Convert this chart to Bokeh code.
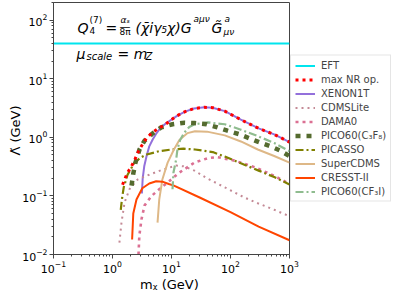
from bokeh.plotting import figure
from bokeh.models import Label, Legend, LegendItem
from bokeh.embed import file_html
from bokeh.resources import INLINE

# ---- data ----
x_range_vals = [0.1, 1000]
y_range_vals = [0.01, 200]

eft_x = [0.1, 1000]
eft_y = [40, 40]

maxnr_x = [1.48, 1.6, 1.8, 2.1, 2.4, 2.76, 3.2, 3.8, 4.8, 6.0, 7.6, 10, 12.6, 17, 24, 36, 50, 80, 150, 300, 550, 1000]
maxnr_y = [0.155, 0.19, 0.25, 0.32, 0.42, 0.58, 0.75, 0.98, 1.22, 1.42, 1.62, 2.0, 2.35, 2.75, 3.1, 3.26, 3.2, 2.8, 2.0, 1.42, 1.12, 0.83]

xenon_x = [3.15, 3.25, 3.45, 3.8, 4.2, 4.8, 5.5, 6.5, 8, 10, 12.6, 17, 24, 36, 50, 80, 150, 300, 550, 1000]
xenon_y = [0.11, 0.2, 0.32, 0.49, 0.7, 0.92, 1.15, 1.45, 1.72, 2.0, 2.35, 2.75, 3.1, 3.26, 3.2, 2.8, 2.0, 1.42, 1.12, 0.83]

cdmslite_x = [1.31, 1.42, 1.6, 1.94, 2.65, 4.2, 7, 12, 16, 24.5, 40, 80, 172, 290, 550, 1000]
cdmslite_y = [0.016, 0.035, 0.077, 0.13, 0.19, 0.23, 0.28, 0.33, 0.32, 0.27, 0.2, 0.14, 0.094, 0.075, 0.058, 0.045]

dama_x = [2.76, 2.85, 3.1, 3.5, 4.6, 6.2, 9.2, 13.6, 24.5, 41, 60, 117, 255, 550, 1000]
dama_y = [0.01, 0.021, 0.04, 0.069, 0.10, 0.13, 0.18, 0.25, 0.37, 0.44, 0.46, 0.40, 0.31, 0.22, 0.16]

pico_c3f8_x = [2.1, 2.25, 2.45, 2.87, 3.5, 4.8, 6.7, 10.4, 16.6, 24.5, 39, 60, 89, 141, 210, 310, 460, 680, 1000]
pico_c3f8_y = [0.15, 0.24, 0.37, 0.62, 0.88, 1.17, 1.48, 1.67, 1.78, 1.75, 1.67, 1.48, 1.3, 1.13, 0.96, 0.82, 0.71, 0.6, 0.48]

picasso_x = [1.38, 1.45, 1.55, 1.8, 2.36, 3.0, 3.8, 6.2, 10, 16, 25, 50, 80, 150, 300, 550, 1000]
picasso_y = [0.058, 0.09, 0.14, 0.23, 0.37, 0.45, 0.51, 0.58, 0.62, 0.64, 0.62, 0.56, 0.47, 0.36, 0.27, 0.21, 0.157]

supercdms_x = [5.8, 6.2, 7, 8.6, 11, 13.6, 18.7, 25, 40, 80, 150, 290, 550, 1000]
supercdms_y = [0.035, 0.087, 0.19, 0.37, 0.62, 0.9, 1.18, 1.27, 1.25, 1.08, 0.85, 0.62, 0.48, 0.37]

cresst_x = [2.15, 2.25, 2.55, 3.2, 4.2, 5.5, 7, 9, 11, 30, 100, 300, 1000]
cresst_y = [0.018, 0.05, 0.087, 0.135, 0.163, 0.178, 0.175, 0.16, 0.15, 0.094, 0.053, 0.03, 0.0175]

pico_cf3i_x = [10.4, 10.8, 12, 12.6, 14, 16.6, 20, 24.5, 41, 80, 150, 290, 550, 1000]
pico_cf3i_y = [0.13, 0.25, 0.42, 0.62, 0.9, 1.22, 1.5, 1.67, 1.8, 1.67, 1.35, 1.05, 0.8, 0.58]

FONT = "DejaVu Sans"

p = figure(frame_width=236, frame_height=252, x_axis_type="log", y_axis_type="log",
           x_range=tuple(x_range_vals), y_range=tuple(y_range_vals),
           output_backend="svg", toolbar_location=None,
           min_border_left=53, min_border_right=0, min_border_top=2, min_border_bottom=30)
p.xgrid.visible = False
p.ygrid.visible = False
p.outline_line_color = "#444444"
p.outline_line_width = 1
p.background_fill_color = "white"
p.border_fill_color = "white"

for ax in (p.xaxis[0], p.yaxis[0]):
    ax.axis_line_color = "#444444"
    ax.major_tick_line_color = "#444444"
    ax.minor_tick_line_color = "#444444"
    ax.major_tick_out = 4
    ax.major_tick_in = 0
    ax.minor_tick_out = 2
    ax.minor_tick_in = 0
    ax.major_label_text_font = FONT
    ax.major_label_text_font_size = "11px"
    ax.major_label_text_color = "black"
    ax.major_label_standoff = 2
    ax.axis_label_text_font = FONT
    ax.axis_label_text_font_size = "13px"
    ax.axis_label_text_font_style = "normal"
    ax.axis_label_text_color = "black"

p.xaxis.axis_label = "mᵪ  (GeV)"
p.yaxis.axis_label = "Λ̃  (GeV)"
p.xaxis.axis_label_standoff = 1
p.yaxis.axis_label_standoff = -4

r_eft = p.line(eft_x, eft_y, line_color="#00e5ee", line_width=2)
r_xenon = p.line(xenon_x, xenon_y, line_color="#9370DB", line_width=2)
r_cdmslite = p.line(cdmslite_x, cdmslite_y, line_color="#c48a96", line_width=2, line_dash="2 4")
r_dama = p.line(dama_x, dama_y, line_color="#db7093", line_width=2.6, line_dash="3 4")
r_picasso = p.line(picasso_x, picasso_y, line_color="#808000", line_width=2.2, line_dash="8 3 2 3")
r_super = p.line(supercdms_x, supercdms_y, line_color="#deb887", line_width=2)
r_cresst = p.line(cresst_x, cresst_y, line_color="#ff4500", line_width=2)
r_cf3i = p.line(pico_cf3i_x, pico_cf3i_y, line_color="#8fbc8f", line_width=2.2, line_dash="8 3 2 3")
r_c3f8 = p.line(pico_c3f8_x, pico_c3f8_y, line_color="#556B2F", line_width=4.5, line_dash="5 6")
r_maxnr = p.line(maxnr_x, maxnr_y, line_color="#ff0000", line_width=3, line_dash="3 4")

legend = Legend(items=[
    LegendItem(label="EFT", renderers=[r_eft]),
    LegendItem(label="max NR op.", renderers=[r_maxnr]),
    LegendItem(label="XENON1T", renderers=[r_xenon]),
    LegendItem(label="CDMSLite", renderers=[r_cdmslite]),
    LegendItem(label="DAMA0", renderers=[r_dama]),
    LegendItem(label="PICO60(C₃F₈)", renderers=[r_c3f8]),
    LegendItem(label="PICASSO", renderers=[r_picasso]),
    LegendItem(label="SuperCDMS", renderers=[r_super]),
    LegendItem(label="CRESST-II", renderers=[r_cresst]),
    LegendItem(label="PICO60(CF₃I)", renderers=[r_cf3i]),
], location="left")
legend.label_text_font = FONT
legend.label_text_font_size = "10px"
legend.label_height = 10
legend.glyph_height = 10
legend.glyph_width = 20
legend.spacing = 3
legend.padding = 4
legend.margin = 1
legend.label_standoff = 6
legend.border_line_color = "#cccccc"
legend.border_line_width = 1
legend.background_fill_alpha = 1.0
p.add_layout(legend, "right")

def lab(text, x, y, size, style="normal"):
    p.add_layout(Label(x=x, y=y, x_units="screen", y_units="screen", text=text,
                       text_font=FONT, text_font_size=size, text_font_style=style,
                       text_color="black", text_baseline="alphabetic", text_align="left"))

# formula text (screen coordinates relative to plot frame)
lab("Q", 24, 227, "14px", "italic")
lab("(7)", 36, 235, "9px")
lab("4", 36, 224, "9px")
lab("=", 52, 227, "14px")
lab("αₛ", 67, 235, "9px", "italic")
lab("—", 66, 228, "11px")
lab("8π", 66, 223, "9px")
lab("(χ̄iγ₅χ)G", 82, 227, "14px", "italic")
lab("aμν", 140, 236, "9px", "italic")
lab("G̃", 158, 227, "14px", "italic")
lab("a", 171, 236, "9px", "italic")
lab("μν", 170, 223, "9px", "italic")

lab("μ", 23, 201, "14px", "italic")
lab("scale", 33, 198, "10px", "italic")
lab("= m", 64, 201, "14px", "italic")
lab("Z", 92, 198, "10px", "italic")

open("out.html", "w").write(file_html(p, INLINE))
